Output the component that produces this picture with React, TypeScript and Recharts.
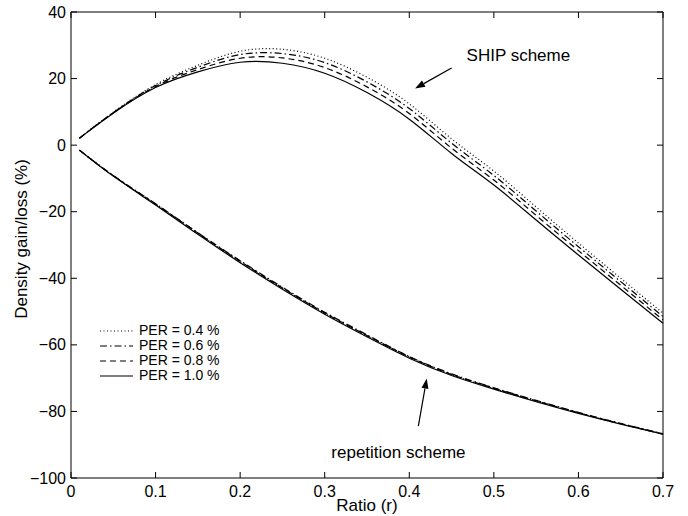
import {
	Label,
	Legend,
	Line,
	LineChart,
	ReferenceArea,
	ReferenceLine,
	XAxis,
	YAxis,
} from 'recharts';

const RATIO = [0.01, 0.05, 0.1, 0.15, 0.2, 0.25, 0.3, 0.35, 0.4, 0.45, 0.5, 0.55, 0.6, 0.65, 0.7];

// SHIP scheme
const SHIP_PER04 = [2.1, 9.9, 18.2, 24.0, 28.2, 28.8, 26.1, 20.4, 12.4, 1.9, -7.8, -18.6, -29.4, -40.0, -50.5];
const SHIP_PER06 = [2.1, 9.8, 17.9, 23.4, 27.2, 27.5, 24.8, 19.0, 11.0, 0.6, -9.1, -19.8, -30.5, -41.0, -51.5];
const SHIP_PER08 = [2.1, 9.7, 17.6, 22.7, 26.1, 26.2, 23.3, 17.5, 9.5, -0.9, -10.5, -21.1, -31.7, -42.1, -52.5];
const SHIP_PER10 = [2.1, 9.6, 17.3, 22.0, 24.9, 24.6, 21.6, 15.8, 7.8, -2.5, -12.0, -22.5, -33.0, -43.3, -53.5];

// repetition scheme
const REP_PER04 = [-1.5, -9.2, -17.8, -26.5, -35.0, -43.0, -50.5, -57.3, -63.7, -68.9, -73.1, -76.9, -80.4, -83.7, -86.8];
const REP_PER06 = [-1.5, -9.1, -17.6, -26.3, -34.7, -42.7, -50.2, -57.0, -63.5, -68.7, -72.9, -76.7, -80.3, -83.6, -86.7];
const REP_PER08 = [-1.5, -9.2, -17.7, -26.4, -34.9, -42.9, -50.4, -57.2, -63.6, -68.9, -73.0, -76.8, -80.4, -83.7, -86.8];
const REP_PER10 = [-1.5, -9.3, -18.0, -26.8, -35.3, -43.3, -50.8, -57.6, -64.0, -69.2, -73.3, -77.1, -80.6, -83.8, -86.8];

const X_TICKS = [0, 0.1, 0.2, 0.3, 0.4, 0.5, 0.6, 0.7];
const Y_TICKS = [-100, -80, -60, -40, -20, 0, 20, 40];

const PER_LABELS = ['PER = 0.4 %', 'PER = 0.6 %', 'PER = 0.8 %', 'PER = 1.0 %'];

const data = RATIO.map((r, i) => ({
	r,
	ship04: SHIP_PER04[i],
	ship06: SHIP_PER06[i],
	ship08: SHIP_PER08[i],
	ship10: SHIP_PER10[i],
	rep04: REP_PER04[i],
	rep06: REP_PER06[i],
	rep08: REP_PER08[i],
	rep10: REP_PER10[i],
}));

const FONT = '"Liberation Sans", Arial, Helvetica, sans-serif';
const PLOT_TOP = 12;
const PLOT_BOTTOM = 478;
const PLOT_LEFT = 71;
const PLOT_RIGHT = 663;
const TICK_LEN = 6;

const DASHES = ['1 2.5', '7 3 1.5 3', '6 4', undefined];
const SERIES = [
	{ ship: 'ship04', rep: 'rep04' },
	{ ship: 'ship06', rep: 'rep06' },
	{ ship: 'ship08', rep: 'rep08' },
	{ ship: 'ship10', rep: 'rep10' },
];

const fmt = (v: number) => (v < 0 ? `\u2212${Math.abs(v)}` : String(v));

function XTick(props: any) {
	const { x, payload } = props;
	return (
		<g>
			<line x1={x} y1={PLOT_BOTTOM} x2={x} y2={PLOT_BOTTOM - TICK_LEN} stroke='#000' />
			<line x1={x} y1={PLOT_TOP} x2={x} y2={PLOT_TOP + TICK_LEN} stroke='#000' />
			<text x={x} y={497} textAnchor='middle' fontSize={16} fontFamily={FONT} fill='#000'>
				{fmt(payload.value)}
			</text>
		</g>
	);
}

function YTick(props: any) {
	const { y, payload } = props;
	return (
		<g>
			<line x1={PLOT_LEFT} y1={y} x2={PLOT_LEFT + TICK_LEN} y2={y} stroke='#000' />
			<line x1={PLOT_RIGHT} y1={y} x2={PLOT_RIGHT - TICK_LEN} y2={y} stroke='#000' />
			<text x={66} y={y} dy={5.5} textAnchor='end' fontSize={16} fontFamily={FONT} fill='#000'>
				{fmt(payload.value)}
			</text>
		</g>
	);
}

function Arrow(props: any) {
	const { x1, y1, x2, y2, text, tx, ty } = props;
	const a = Math.atan2(y2 - y1, x2 - x1);
	const len = 10;
	const w = 3.5;
	const bx = x2 - len * Math.cos(a);
	const by = y2 - len * Math.sin(a);
	const px = -Math.sin(a) * w;
	const py = Math.cos(a) * w;
	return (
		<g>
			<line x1={x1} y1={y1} x2={bx} y2={by} stroke='#000' strokeWidth={1.2} />
			<polygon points={`${x2},${y2} ${bx + px},${by + py} ${bx - px},${by - py}`} fill='#000' />
			<text x={x1 + tx} y={y1 + ty} fontSize={17} fontFamily={FONT} fill='#000'>
				{text}
			</text>
		</g>
	);
}

function PerLegend(props: any) {
	const { payload } = props;
	const entries = (payload || []).filter((e: any) =>
		SERIES.some((s) => s.ship === e.dataKey),
	);
	return (
		<div style={{ fontFamily: FONT, fontSize: 14, lineHeight: '15px' }}>
			{entries.map((entry: any, i: number) => {
				const idx = SERIES.findIndex((s) => s.ship === entry.dataKey);
				return (
					<div key={i} style={{ display: 'flex', alignItems: 'center', height: 15 }}>
						<svg width={40} height={15}>
							<line
								x1={1}
								y1={8}
								x2={34}
								y2={8}
								stroke='#000'
								strokeWidth={1.2}
								strokeDasharray={DASHES[idx]}
							/>
						</svg>
						<span>{entry.value}</span>
					</div>
				);
			})}
		</div>
	);
}

export default function App() {
	return (
		<div style={{ width: 688, height: 516, background: '#fff' }}>
			<style>{'body{margin:0}'}</style>
			<LineChart
				width={688}
				height={516}
				data={data}
				margin={{ top: PLOT_TOP, right: 688 - PLOT_RIGHT, left: 0, bottom: 0 }}
			>
				<XAxis
					dataKey='r'
					type='number'
					domain={[0, 0.7]}
					ticks={X_TICKS}
					height={38}
					axisLine={false}
					tickLine={false}
					tick={<XTick />}
					interval={0}
				>
					<Label
						content={() => (
							<text x={367} y={511} textAnchor='middle' fontSize={17} fontFamily={FONT} fill='#000'>
								Ratio (r)
							</text>
						)}
					/>
				</XAxis>
				<YAxis
					type='number'
					domain={[-100, 40]}
					ticks={Y_TICKS}
					width={PLOT_LEFT}
					axisLine={false}
					tickLine={false}
					tick={<YTick />}
					interval={0}
				>
					<Label
						content={() => (
							<text
								x={0}
								y={0}
								transform={`translate(27, ${(PLOT_TOP + PLOT_BOTTOM) / 2 - 6}) rotate(-90)`}
								textAnchor='middle'
								fontSize={17}
								fontFamily={FONT}
								fill='#000'
							>
								Density gain/loss (%)
							</text>
						)}
					/>
				</YAxis>
				<ReferenceArea x1={0} x2={0.7} y1={-100} y2={40} fill='none' stroke='#000' strokeWidth={1} />
				{SERIES.map((s, i) => (
					<Line
						key={s.ship}
						dataKey={s.ship}
						name={PER_LABELS[i]}
						type='natural'
						stroke='#000'
						strokeWidth={1.2}
						strokeDasharray={DASHES[i]}
						dot={false}
						activeDot={false}
						isAnimationActive={false}
					/>
				))}
				{SERIES.map((s, i) => (
					<Line
						key={s.rep}
						dataKey={s.rep}
						name={PER_LABELS[i]}
						legendType='none'
						type='natural'
						stroke='#000'
						strokeWidth={1.2}
						strokeDasharray={DASHES[i]}
						dot={false}
						activeDot={false}
						isAnimationActive={false}
					/>
				))}
				<ReferenceLine
					segment={[
						{ x: 0.45, y: 23.2 },
						{ x: 0.4068, y: 17.0 },
					]}
					shape={(p: any) => <Arrow {...p} text='SHIP scheme' tx={15} ty={-7} />}
				/>
				<ReferenceLine
					segment={[
						{ x: 0.4107, y: -84.4 },
						{ x: 0.4206, y: -70.1 },
					]}
					shape={(p: any) => <Arrow {...p} text='repetition scheme' tx={-87} ty={32} />}
				/>
				<Legend
					layout='vertical'
					align='center'
					verticalAlign='middle'
					content={<PerLegend />}
					wrapperStyle={{ left: 99, top: 323, width: 140 }}
				/>
			</LineChart>
		</div>
	);
}
